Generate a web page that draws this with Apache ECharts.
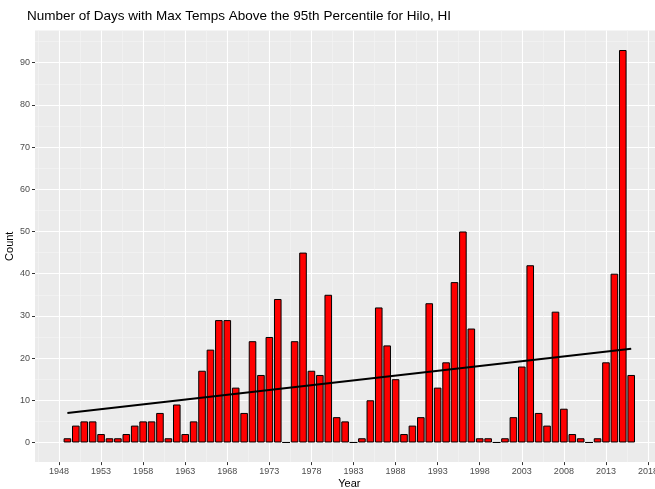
<!DOCTYPE html>
<html>
<head>
<meta charset="utf-8">
<script src="https://cdn.jsdelivr.net/npm/echarts@6/dist/echarts.min.js"></script>
<style>
  html, body { margin: 0; padding: 0; background: #fff; }
  #chart { width: 655px; height: 489px; }
</style>
</head>
<body>
<div id="chart"></div>
<script>
// years 1949 - 2016
const years = [];
for (let y = 1949; y <= 2016; y++) years.push(y);

const counts = [
  1, 4, 5, 5, 2, 1, 1, 2, 4, 5,       // 1949-1958
  5, 7, 1, 9, 2, 5, 17, 22, 29, 29,   // 1959-1968
  13, 7, 24, 16, 25, 34, 0, 24, 45, 17, // 1969-1978
  16, 35, 6, 5, 0, 1, 10, 32, 23, 15, // 1979-1988
  2, 4, 6, 33, 13, 19, 38, 50, 27, 1, // 1989-1998
  1, 0, 1, 6, 18, 42, 7, 4, 31, 8,    // 1999-2008
  2, 1, 0, 1, 19, 40, 93, 16          // 2009-2016
];

// linear trend, end points
const trendYears = [1949, 2016];
const trendValues = [7.0, 22.2];

const xTicks = [1948, 1953, 1958, 1963, 1968, 1973, 1978, 1983, 1988, 1993, 1998, 2003, 2008, 2013, 2018];
const xMinor = [1945.5, 1950.5, 1955.5, 1960.5, 1965.5, 1970.5, 1975.5, 1980.5, 1985.5, 1990.5, 1995.5, 2000.5, 2005.5, 2010.5, 2015.5];
const yTicks = [0, 10, 20, 30, 40, 50, 60, 70, 80, 90];
const yMinor = [5, 15, 25, 35, 45, 55, 65, 75, 85, 95];

const xMin = 1945.15, xMax = 2019.85;
const yMin = -4.65, yMax = 97.65;

const labelStyle = { color: '#4D4D4D', fontSize: 9, fontFamily: 'Liberation Sans' };

const chart = echarts.init(document.getElementById('chart'));
chart.setOption({
  animation: false,
  textStyle: { fontFamily: 'Liberation Sans' },
  title: {
    text: 'Number of Days with Max Temps Above the 95th Percentile for Hilo, HI',
    left: 22,
    top: 4,
    textStyle: { fontSize: 13.5, fontWeight: 'normal', color: '#000', fontFamily: 'Liberation Sans' }
  },
  grid: {
    left: 35,
    top: 30.4,
    right: -8.6,
    height: 431.7,
    outerBoundsMode: 'none',
    containLabel: false,
    show: true,
    backgroundColor: '#EBEBEB',
    borderWidth: 0
  },
  xAxis: [
    {
      type: 'value',
      min: xMin,
      max: xMax,
      name: 'Year',
      nameLocation: 'middle',
      nameGap: 16,
      nameMoveOverlap: false,
      nameTextStyle: { color: '#000', fontSize: 11, fontFamily: 'Liberation Sans' },
      axisLine: { show: false, onZero: false },
      axisTick: { customValues: xTicks, length: 3, lineStyle: { color: '#333' } },
      axisLabel: Object.assign({ customValues: xTicks, margin: 5, formatter: v => String(v) }, labelStyle),
      splitLine: { show: true, lineStyle: { color: '#fff', width: 1.1 } }
    },
    {
      type: 'value',
      min: xMin,
      max: xMax,
      position: 'bottom',
      axisLine: { show: false, onZero: false },
      axisTick: { show: false, customValues: xMinor },
      axisLabel: { show: false },
      splitLine: { show: true, lineStyle: { color: '#F5F5F5', width: 0.6 } }
    }
  ],
  yAxis: [
    {
      type: 'value',
      min: yMin,
      max: yMax,
      name: 'Count',
      nameLocation: 'middle',
      nameGap: 20,
      nameMoveOverlap: false,
      nameRotate: 90,
      nameTextStyle: { color: '#000', fontSize: 11, fontFamily: 'Liberation Sans' },
      axisLine: { show: false, onZero: false },
      axisTick: { show: true, customValues: yTicks, length: 3, lineStyle: { color: '#333' } },
      axisLabel: Object.assign({ customValues: yTicks, margin: 5 }, labelStyle),
      splitLine: { show: true, lineStyle: { color: '#fff', width: 1.1 } }
    },
    {
      type: 'value',
      min: yMin,
      max: yMax,
      position: 'left',
      axisLine: { show: false, onZero: false },
      axisTick: { show: false, customValues: yMinor },
      axisLabel: { show: false },
      splitLine: { show: true, lineStyle: { color: '#F5F5F5', width: 0.6 } }
    }
  ],
  series: [
    {
      type: 'bar',
      xAxisIndex: 0,
      yAxisIndex: 0,
      barWidth: 7.6,
      data: years.map((y, i) => [y, counts[i]]),
      itemStyle: { color: '#FF0000', borderColor: '#000', borderWidth: 1 },
      z: 2
    },
    {
      type: 'line',
      xAxisIndex: 0,
      yAxisIndex: 0,
      data: trendYears.map((y, i) => [y, trendValues[i]]),
      symbol: 'none',
      lineStyle: { color: '#000', width: 2 },
      z: 3
    }
  ]
});
</script>
</body>
</html>
